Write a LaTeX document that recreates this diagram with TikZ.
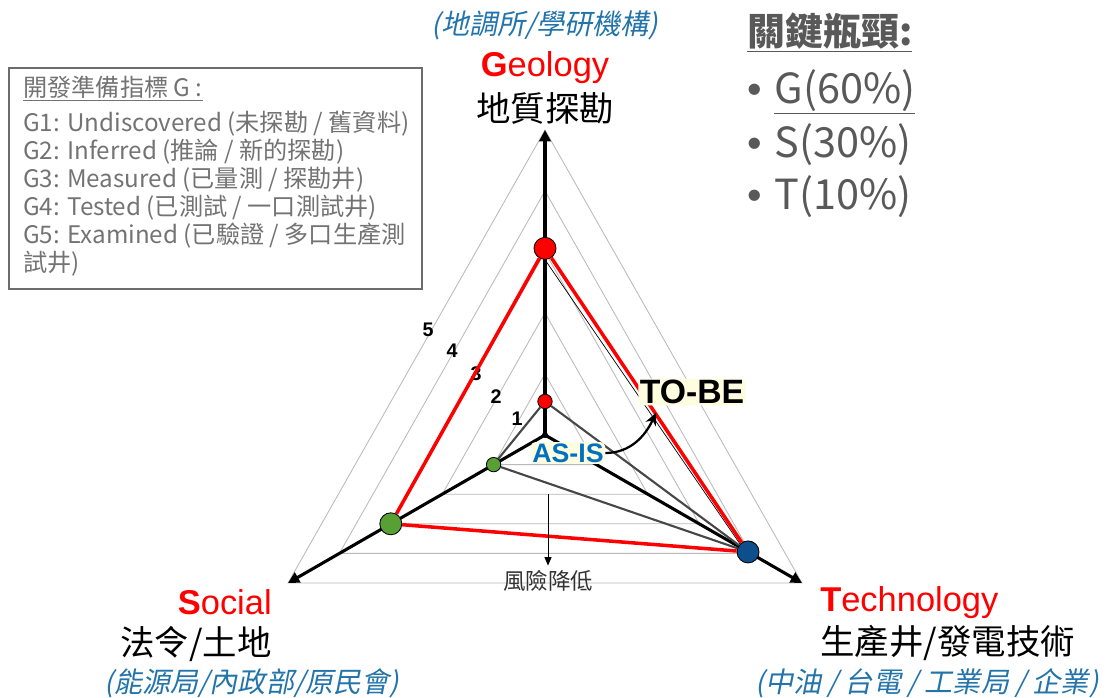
\documentclass[tikz,border=0pt]{standalone}
\usepackage{fontspec}
\setmainfont{Liberation Sans}
\newfontfamily\cjk{Noto Sans CJK TC}
\newfontfamily\cjkit[FakeSlant=0.2]{Noto Sans CJK TC}
\usepackage{xcolor}
\usetikzlibrary{positioning}
\usetikzlibrary{calc}
\usetikzlibrary{arrows.meta}
\definecolor{ptred}{RGB}{255,0,0}
\definecolor{ptgreen}{RGB}{88,160,52}
\definecolor{ptblue}{RGB}{14,78,140}
\definecolor{agencyblue}{RGB}{34,116,170}
\definecolor{asisblue}{RGB}{0,112,192}
\definecolor{keygray}{RGB}{89,89,89}
\definecolor{legendgray}{RGB}{115,115,115}
\tikzstyle{gridline}=[draw=gray!55, line width=0.6pt]
\tikzstyle{axisline}=[draw=black, line width=2.2pt, -{Triangle[length=8pt,width=8pt]}]
\tikzstyle{datadot}=[circle, draw=black, line width=0.6pt, inner sep=0pt, minimum size=0.55cm]
\tikzstyle{small dot}=[datadot, minimum size=0.36cm]
\tikzstyle{tobeline}=[draw=ptred, line width=2.5pt]
\tikzstyle{asisline}=[draw=black!72, line width=1.5pt]
\tikzstyle{thinlink}=[draw=black, line width=0.5pt]
\tikzstyle{axisname}=[inner sep=0pt, text=ptred, font=\fontsize{24.5}{28}\selectfont]
\tikzstyle{axistitle}=[inner sep=0pt, font=\cjk\fontsize{24.5}{28}\selectfont]
\tikzstyle{agency}=[inner sep=0pt, text=agencyblue, font=\cjkit\fontsize{20}{24}\selectfont]
\tikzstyle{keytext}=[inner sep=0pt, text=keygray, font=\cjk\fontsize{29.5}{32}\selectfont]

\begin{document}
\begin{tikzpicture}[x=0.025cm, y=-0.025cm]
  \useasboundingbox (0,0) rectangle (1110,697);

  \coordinate (O)  at (545,435);
  \coordinate (G5) at (545,130);
  \coordinate (S5) at (288,583);
  \coordinate (T5) at (802,583);

  % grid
  \foreach \k in {1,...,5}
    \draw[gridline] ($(O)!\k/5!(G5)$) -- ($(O)!\k/5!(S5)$) -- ($(O)!\k/5!(T5)$) -- cycle;
  \foreach \k/\x/\y in {5/428/330, 4/452/351, 3/476/374, 2/496/397, 1/517/419}
    \node[font=\bfseries\fontsize{14}{14}\selectfont, inner sep=0pt] (lvl\k) at (\x,\y) {\k};

  \draw[axisline] (O) -- (G5);
  \draw[axisline] (O) -- (S5);
  \draw[axisline] (O) -- (T5);

  % points
  \node[datadot, fill=ptred]    (gto) at ($(O)!0.612!(G5)$) {};
  \node[datadot, fill=ptgreen]  (sto) at ($(O)!0.6!(S5)$) {};
  \node[datadot, fill=ptblue]   (tto) at ($(O)!0.79!(T5)$) {};
  \node[small dot, fill=ptred]   (gas) at ($(O)!0.11!(G5)$) {};
  \node[small dot, fill=ptgreen] (sas) at ($(O)!0.2!(S5)$) {};
  \node[circle, fill=black, inner sep=0pt, minimum size=0.15cm] (zero) at (O) {};

  \draw[thinlink] (gto.south) -- (tto.north west);
  \draw[asisline] (gas) -- (sas) -- (tto) -- (gas);
  \draw[tobeline] (gto) -- (sto) -- (tto) -- (gto);

  % risk
  \coordinate (riskstart) at (548,494);
  \node[font=\cjk\fontsize{16}{18}\selectfont, text=black!80] (risk) at (548,581) {風險降低};
  \draw[-{Triangle[length=6pt,width=5pt]}, line width=0.6pt] (riskstart) -- (risk.north);

  \node[inner sep=1pt, fill=yellow!12, rounded corners=3pt, text=asisblue, font=\bfseries\fontsize{19}{19}\selectfont] (asis) at (568,453) {AS-IS};
  \node[inner sep=1pt, fill=yellow!12, rounded corners=3pt, font=\bfseries\fontsize{24}{24}\selectfont] (tobe) at (692,392) {TO-BE};
  \draw[line width=1.6pt, -{Stealth[length=9pt,width=8pt]}] (asis.east) to[out=0, in=-115] ($(tobe.south west)+(18,7)$);

  % axis labels
  \node[agency]    (geoagency) at (545,25)  {(地調所/學研機構)};
  \node[axisname]  (geo)       at (545,68)  {\textbf{G}eology};
  \node[axistitle] (geotitle)  at (545,108) {地質探勘};

  \node[axisname, anchor=east]  (soc)       at (272,602) {\textbf{S}ocial};
  \node[axistitle, anchor=east] (soctitle)  at (272,644) {法令/土地};
  \node[agency]                 (socagency) at (252,683) {(能源局/內政部/原民會)};

  \node[axisname, anchor=west]  (tech)       at (820,603) {\textbf{T}echnology};
  \node[axistitle, anchor=west] (techtitle)  at (820,643) {生產井/發電技術};
  \node[agency]                 (techagency) at (927,683) {(中油 / 台電 / 工業局 / 企業)};

  % legend
  \draw[draw=gray!85!black, line width=2pt] (9,68) rectangle (422,289);
  \node[anchor=north west, inner sep=0pt, align=left, text=legendgray,
        font=\cjk\fontsize{17.2}{19.9}\selectfont] (legend) at (23,76)
    {\underline{開發準備指標 G :}\\[5pt]
     G1: Undiscovered (未探勘 / 舊資料)\\
     G2: Inferred (推論 / 新的探勘)\\
     G3: Measured (已量測 / 探勘井)\\
     G4: Tested (已測試 / 一口測試井)\\
     G5: Examined (已驗證 / 多口生產測\\
     試井)};

  % key bottleneck
  \node[keytext, anchor=west, font=\cjk\bfseries\fontsize{27}{30}\selectfont] (keyhead) at (747,32) {\underline{關鍵瓶頸:}};
  \node[keytext, anchor=west] (keyg) at (747,92)  {{\rmfamily •}\hspace{9pt}\underline{G(60\%)}};
  \node[keytext, anchor=west] (keys) at (747,145) {{\rmfamily •}\hspace{9pt}S(30\%)};
  \node[keytext, anchor=west] (keyt) at (747,197) {{\rmfamily •}\hspace{9pt}T(10\%)};
\end{tikzpicture}
\end{document}
